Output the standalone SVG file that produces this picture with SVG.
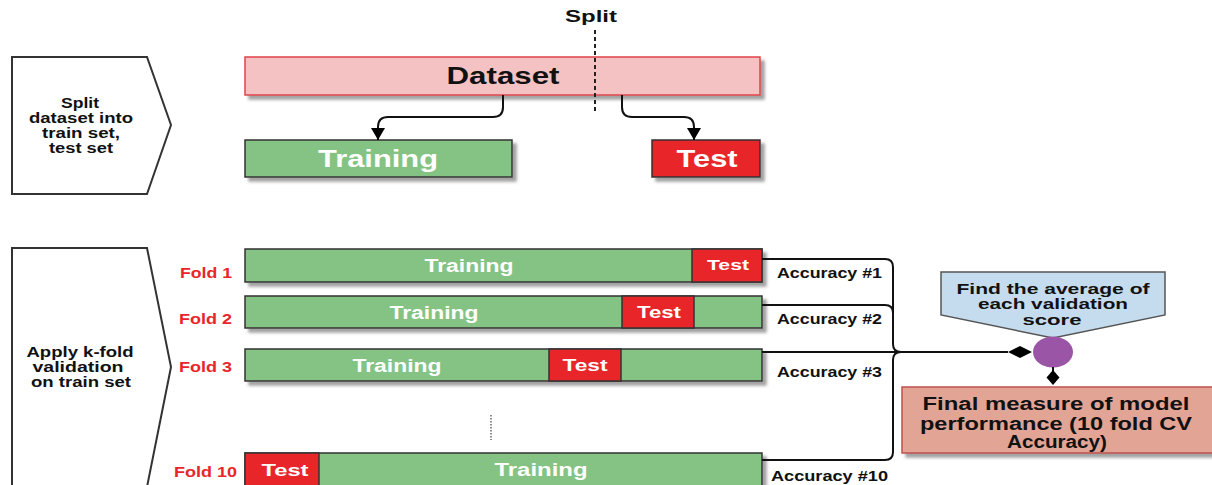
<svg xmlns="http://www.w3.org/2000/svg" width="1212" height="485" viewBox="0 0 1212 485">
<defs>
<filter id="sh" x="-5%" y="-20%" width="115%" height="160%">
<feDropShadow dx="4" dy="4" stdDeviation="1.5" flood-color="#8a8a8a" flood-opacity="0.8"/>
</filter>
<marker id="arr" viewBox="0 0 12 14" refX="12" refY="7" markerWidth="12" markerHeight="14" markerUnits="userSpaceOnUse" orient="auto">
<path d="M0 0 L12 7 L0 14 Z" fill="#000"/>
</marker>
</defs>
<style>
text{font-family:"Liberation Sans",Arial,sans-serif;font-weight:bold}
.lbl{font-size:14px;fill:#111;text-anchor:middle}
.wt{fill:#fff;text-anchor:middle}
.fold{font-size:14px;fill:#e8262a;text-anchor:end}
.acc{font-size:14px;fill:#111}
.grn{fill:#84c383;stroke:#333;stroke-width:1.5}
.red{fill:#e8262a;stroke:#333;stroke-width:1.5}
.conn{fill:none;stroke:#111;stroke-width:2}
.chev{fill:#fff;stroke:#333;stroke-width:2}
</style>
<rect width="1212" height="485" fill="#fff"/>

<g id="step1">
<polygon class="chev" points="12,57 147,57 171,125 147,194 12,194"/>
<text class="lbl" x="80" y="108" textLength="38" lengthAdjust="spacingAndGlyphs">Split</text>
<text class="lbl" x="81" y="123" textLength="104" lengthAdjust="spacingAndGlyphs">dataset into</text>
<text class="lbl" x="81" y="138" textLength="78" lengthAdjust="spacingAndGlyphs">train set,</text>
<text class="lbl" x="81" y="153" textLength="64" lengthAdjust="spacingAndGlyphs">test set</text>
</g>

<g id="step2">
<polygon class="chev" points="12,248 147,248 171,367 147,487 12,487"/>
<text class="lbl" x="80" y="357" textLength="107" lengthAdjust="spacingAndGlyphs">Apply k-fold</text>
<text class="lbl" x="78" y="372" textLength="91" lengthAdjust="spacingAndGlyphs">validation</text>
<text class="lbl" x="81" y="387" textLength="100" lengthAdjust="spacingAndGlyphs">on train set</text>
</g>

<g id="split">
<text class="lbl" x="591" y="22" style="font-size:16px" textLength="52" lengthAdjust="spacingAndGlyphs">Split</text>
</g>

<g id="dataset">
<rect x="245" y="57" width="515" height="38" fill="#f4c2c2" stroke="#e0454a" stroke-width="1.5" filter="url(#sh)"/>
<text x="503" y="84" style="font-size:24px;fill:#111;text-anchor:middle" textLength="113" lengthAdjust="spacingAndGlyphs">Dataset</text>
</g>

<g id="training">
<rect class="grn" x="245" y="140" width="267" height="37" filter="url(#sh)"/>
<text class="wt" x="378" y="167" style="font-size:23px" textLength="120" lengthAdjust="spacingAndGlyphs">Training</text>
</g>

<g id="test">
<rect class="red" x="652" y="140" width="108" height="37" filter="url(#sh)"/>
<text class="wt" x="707" y="167" style="font-size:23px" textLength="61" lengthAdjust="spacingAndGlyphs">Test</text>
</g>

<g id="fold1">
<text class="fold" x="232" y="278" textLength="52" lengthAdjust="spacingAndGlyphs">Fold 1</text>
<rect class="grn" x="245" y="249" width="517" height="33" filter="url(#sh)"/>
<rect class="red" x="692" y="249" width="70" height="33"/>
<text class="wt" x="469" y="272" style="font-size:18px" textLength="89" lengthAdjust="spacingAndGlyphs">Training</text>
<text class="wt" x="728" y="270" style="font-size:15px" textLength="42" lengthAdjust="spacingAndGlyphs">Test</text>
</g>

<g id="fold2">
<text class="fold" x="232" y="324" textLength="53" lengthAdjust="spacingAndGlyphs">Fold 2</text>
<rect class="grn" x="245" y="296" width="517" height="32" filter="url(#sh)"/>
<rect class="red" x="622" y="296" width="72" height="32"/>
<text class="wt" x="434" y="319" style="font-size:18px" textLength="89" lengthAdjust="spacingAndGlyphs">Training</text>
<text class="wt" x="659" y="318" style="font-size:17px" textLength="44" lengthAdjust="spacingAndGlyphs">Test</text>
</g>

<g id="fold3">
<text class="fold" x="232" y="372" textLength="53" lengthAdjust="spacingAndGlyphs">Fold 3</text>
<rect class="grn" x="245" y="349" width="517" height="32" filter="url(#sh)"/>
<rect class="red" x="549" y="349" width="72" height="32"/>
<text class="wt" x="397" y="372" style="font-size:18px" textLength="89" lengthAdjust="spacingAndGlyphs">Training</text>
<text class="wt" x="585" y="371" style="font-size:17px" textLength="45" lengthAdjust="spacingAndGlyphs">Test</text>
</g>

<g id="ellipsis">
<line x1="491" y1="415" x2="491" y2="440" stroke="#666" stroke-width="1.5" stroke-dasharray="1.5,1.5"/>
</g>

<g id="fold10">
<text class="fold" x="237" y="477" textLength="63" lengthAdjust="spacingAndGlyphs">Fold 10</text>
<rect class="grn" x="245" y="453" width="517" height="36" filter="url(#sh)"/>
<rect class="red" x="245" y="453" width="74" height="36"/>
<text class="wt" x="285" y="476" style="font-size:17px" textLength="47" lengthAdjust="spacingAndGlyphs">Test</text>
<text class="wt" x="541" y="476" style="font-size:18px" textLength="93" lengthAdjust="spacingAndGlyphs">Training</text>
</g>

<g id="accuracies">
<text class="acc" x="777" y="278" textLength="105" lengthAdjust="spacingAndGlyphs">Accuracy #1</text>
<text class="acc" x="777" y="324" textLength="105" lengthAdjust="spacingAndGlyphs">Accuracy #2</text>
<text class="acc" x="777" y="377" textLength="105" lengthAdjust="spacingAndGlyphs">Accuracy #3</text>
<text class="acc" x="771" y="481" textLength="117" lengthAdjust="spacingAndGlyphs">Accuracy #10</text>
</g>

<g id="average">
<polygon points="941,272 1165,272 1165,315 1053,338 941,315" fill="#c5dcee" stroke="#555" stroke-width="1.5"/>
<text class="lbl" x="1053" y="294" style="font-size:15px" textLength="193" lengthAdjust="spacingAndGlyphs">Find the average of</text>
<text class="lbl" x="1053" y="309" style="font-size:15px" textLength="150" lengthAdjust="spacingAndGlyphs">each validation</text>
<text class="lbl" x="1052" y="325" style="font-size:15px" textLength="59" lengthAdjust="spacingAndGlyphs">score</text>
</g>

<g id="merge">
<ellipse cx="1053" cy="352" rx="20" ry="15.5" fill="#9b55a6"/>
</g>

<g id="final">
<rect x="902" y="387" width="312" height="66" fill="#e2a495" stroke="#c0504d" stroke-width="1.5" filter="url(#sh)"/>
<text class="lbl" x="1056" y="410" style="font-size:18px" textLength="267" lengthAdjust="spacingAndGlyphs">Final measure of model</text>
<text class="lbl" x="1056" y="430" style="font-size:18px" textLength="272" lengthAdjust="spacingAndGlyphs">performance (10 fold CV</text>
<text class="lbl" x="1057" y="448" style="font-size:18px" textLength="100" lengthAdjust="spacingAndGlyphs">Accuracy)</text>
</g>

<g id="connectors">
<line x1="595" y1="30" x2="595" y2="113" stroke="#222" stroke-width="2" stroke-dasharray="4,3"/>
<path class="conn" d="M503 95 V107 Q503 117 493 117 H388 Q378 117 378 127 V140" marker-end="url(#arr)"/>
<path class="conn" d="M622 95 V107 Q622 117 632 117 H684 Q694 117 694 127 V140" marker-end="url(#arr)"/>
<path class="conn" d="M762 259 H885 Q893 259 893 267 V344 Q893 352 901 352"/>
<path class="conn" d="M762 305 H885 Q893 305 893 313"/>
<path class="conn" d="M762 460 H885 Q893 460 893 452 V360 Q893 352 901 352"/>
<path class="conn" d="M762 352 H1008"/>
<polygon points="1008,352 1020,346 1032,352 1020,358" fill="#000"/>
<path class="conn" d="M1053 367 V371"/>
<polygon points="1053,370 1059.5,377.5 1053,385 1046.5,377.5" fill="#000"/>
</g>
</svg>
